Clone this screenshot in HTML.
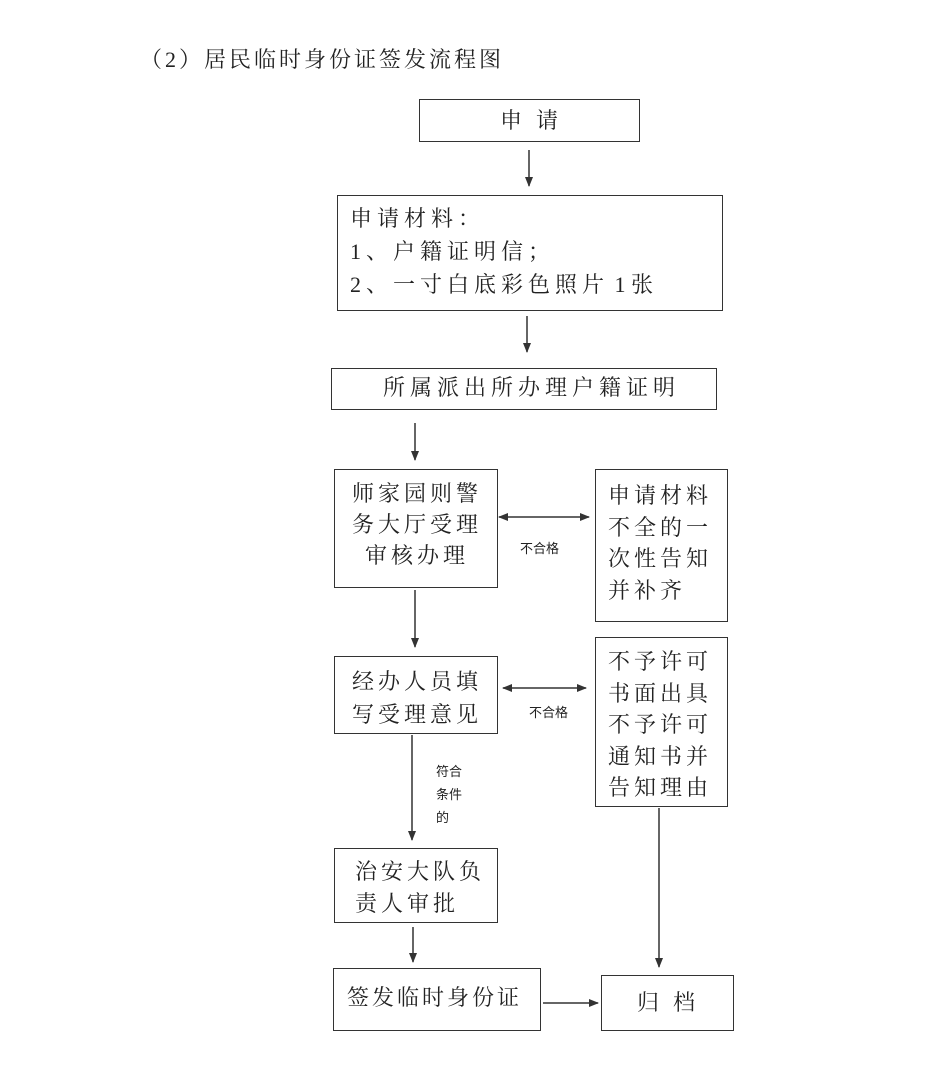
<!DOCTYPE html>
<html><head><meta charset="utf-8"><style>
body{margin:0;width:950px;height:1073px;background:#fff;position:relative;overflow:hidden;font-family:"Liberation Serif","Noto Serif CJK SC",serif;color:#222}
.b{position:absolute;border:1.5px solid #333;box-sizing:border-box}
.t{position:absolute;font-size:22px;line-height:31px;letter-spacing:7px;white-space:nowrap}
.s{position:absolute;font-size:13px;font-family:"Liberation Sans","Noto Sans CJK SC",sans-serif;line-height:23px;white-space:nowrap}
svg{position:absolute;left:0;top:0}
</style></head><body>
<div class="t" style="left:140px;top:44px;letter-spacing:3px">（2）居民临时身份证签发流程图</div>

<div class="b" style="left:419px;top:99px;width:221px;height:43px"></div>
<div class="t" style="left:500px;top:105px;letter-spacing:14px">申请</div>

<div class="b" style="left:337px;top:195px;width:386px;height:116px"></div>
<div class="t" style="left:350px;top:202px;line-height:33px;letter-spacing:5px">申请材料<span style="letter-spacing:0">：</span><br>1、户籍证明信；<br>2、一寸白底彩色照片<span style="letter-spacing:0"> 1 </span>张</div>

<div class="b" style="left:331px;top:368px;width:386px;height:42px"></div>
<div class="t" style="left:383px;top:372px;letter-spacing:5px">所属派出所办理户籍证明</div>

<div class="b" style="left:334px;top:469px;width:164px;height:119px"></div>
<div class="t" style="left:352px;top:478px;line-height:31px;text-align:center;letter-spacing:4px">师家园则警<br>务大厅受理<br>审核办理</div>

<div class="b" style="left:595px;top:469px;width:133px;height:153px"></div>
<div class="t" style="left:608px;top:480px;line-height:31.5px;letter-spacing:4px">申请材料<br>不全的一<br>次性告知<br>并补齐</div>

<div class="b" style="left:334px;top:656px;width:164px;height:78px"></div>
<div class="t" style="left:352px;top:665px;line-height:33px;letter-spacing:4px">经办人员填<br>写受理意见</div>

<div class="b" style="left:595px;top:637px;width:133px;height:170px"></div>
<div class="t" style="left:608px;top:646px;line-height:31.5px;letter-spacing:4px">不予许可<br>书面出具<br>不予许可<br>通知书并<br>告知理由</div>

<div class="b" style="left:334px;top:848px;width:164px;height:75px"></div>
<div class="t" style="left:355px;top:856px;line-height:32px;letter-spacing:4px">治安大队负<br>责人审批</div>

<div class="b" style="left:333px;top:968px;width:208px;height:63px"></div>
<div class="t" style="left:347px;top:982px;letter-spacing:3px">签发临时身份证</div>

<div class="b" style="left:601px;top:975px;width:133px;height:56px"></div>
<div class="t" style="left:637px;top:987px;letter-spacing:14px">归档</div>

<div class="s" style="left:520px;top:537px">不合格</div>
<div class="s" style="left:529px;top:701px">不合格</div>
<div class="s" style="left:436px;top:760px">符合<br>条件<br>的</div>

<svg width="950" height="1073">
<defs><marker id="a" markerWidth="10" markerHeight="10" refX="9" refY="5" orient="auto-start-reverse" markerUnits="userSpaceOnUse"><path d="M0,1 L10,5 L0,9 Z" fill="#333"/></marker></defs>
<g stroke="#333" stroke-width="1.5" fill="none">
<line x1="529" y1="150" x2="529" y2="186" marker-end="url(#a)"/>
<line x1="527" y1="316" x2="527" y2="352" marker-end="url(#a)"/>
<line x1="415" y1="423" x2="415" y2="460" marker-end="url(#a)"/>
<line x1="499" y1="517" x2="589" y2="517" marker-start="url(#a)" marker-end="url(#a)"/>
<line x1="415" y1="590" x2="415" y2="647" marker-end="url(#a)"/>
<line x1="503" y1="688" x2="586" y2="688" marker-start="url(#a)" marker-end="url(#a)"/>
<line x1="412" y1="735" x2="412" y2="840" marker-end="url(#a)"/>
<line x1="413" y1="927" x2="413" y2="962" marker-end="url(#a)"/>
<line x1="543" y1="1003" x2="598" y2="1003" marker-end="url(#a)"/>
<line x1="659" y1="808" x2="659" y2="967" marker-end="url(#a)"/>
</g></svg>
</body></html>
